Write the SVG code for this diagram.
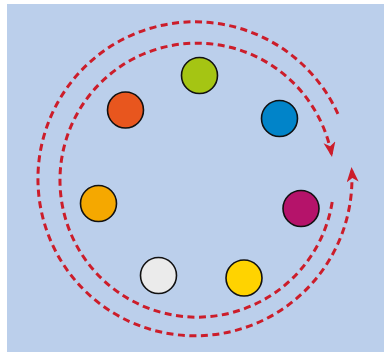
<svg xmlns="http://www.w3.org/2000/svg" width="384" height="352" viewBox="0 0 384 352">
<style>
.bg{fill:#bbcfeb}
.node{stroke:#111;stroke-width:1.6}
.arc{fill:none;stroke:#cc1d2a;stroke-width:3;stroke-dasharray:7 4.5}
</style>
<defs>
<marker id="ah" markerUnits="userSpaceOnUse" markerWidth="18" markerHeight="14" refX="15" refY="6" orient="auto" viewBox="0 0 18 14">
<path d="M0,0 L15,6 L0,12 L4,6 z" fill="#cc1d2a"/>
</marker>
</defs>
<rect class="bg" x="7" y="4" width="377" height="348"/>
<g id="connectors">
<path class="arc" d="M337.9,113.9 A157,157 0 1 0 351.5,167" marker-end="url(#ah)"/>
<path class="arc" d="M332.2,202.1 A137,137 0 1 1 332,157" marker-end="url(#ah)"/>
</g>
<g id="n-green"><circle class="node" cx="199.5" cy="75.5" r="18" fill="#a5c513"/></g>
<g id="n-orange"><circle class="node" cx="125.5" cy="110" r="18" fill="#e8561e"/></g>
<g id="n-blue"><circle class="node" cx="279.5" cy="118.5" r="18" fill="#0184c9"/></g>
<g id="n-amber"><circle class="node" cx="98.5" cy="203.5" r="18" fill="#f5a800"/></g>
<g id="n-magenta"><circle class="node" cx="301" cy="208.5" r="18" fill="#b5136a"/></g>
<g id="n-white"><circle class="node" cx="158.5" cy="275.5" r="18" fill="#ebebeb"/></g>
<g id="n-yellow"><circle class="node" cx="244" cy="278" r="18" fill="#ffd300"/></g>
</svg>
